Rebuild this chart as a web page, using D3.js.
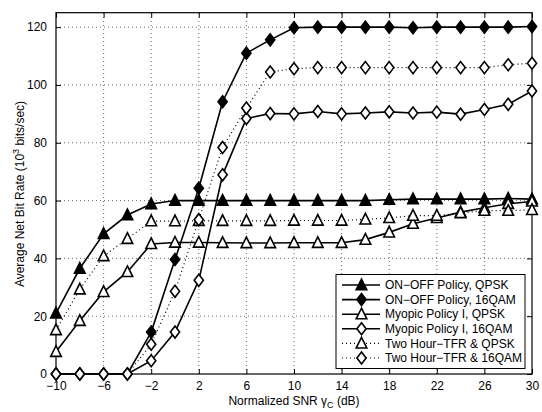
<!DOCTYPE html>
<html>
<head>
<meta charset="utf-8">
<script src="https://cdn.jsdelivr.net/npm/d3@7"></script>
<style>
  body { margin: 0; background: #fff; }
  text { font-family: "Liberation Sans", Arial, sans-serif; font-size: 12px; fill: #000; }
</style>
</head>
<body>
<div id="chart"></div>
<script>
// x values (normalized SNR, dB)
const snr = [-10, -8, -6, -4, -2, 0, 2, 4, 6, 8, 10, 12, 14, 16, 18, 20, 22, 24, 26, 28, 30]

// series values (10^3 bits/sec)
const onoffQpsk = [21, 36.5, 48.5, 55, 58.8, 60, 60, 60, 60, 60, 60, 60, 60, 60, 60.3, 60.5, 60.5, 60.5, 60.5, 60.7, 60.5]
const onoff16 = [0, 0, 0, 0, 14.5, 39.6, 64.3, 94.2, 111, 115.6, 119.8, 120, 120, 120, 120, 119.8, 120, 120, 120, 120, 120.2]
const myopicQpsk = [7.7, 18.4, 28.4, 35.3, 45, 45.5, 45.5, 45.4, 45.3, 45.3, 45.4, 45.4, 45.4, 46.5, 49, 52, 54, 56, 57.5, 58.9, 59.7]
const myopic16 = [0, 0, 0, 0, 4.6, 14.5, 32.4, 68.9, 88.4, 90.1, 90, 90.8, 90, 90.3, 90.7, 90.3, 90.6, 89.9, 91.5, 93.3, 97.9]
const twoQpsk = [15.2, 29.3, 40.8, 46.8, 52.9, 52.9, 53, 53, 53, 53, 53.1, 53.1, 53.1, 53.5, 54, 54.8, 54.8, 55.7, 56.5, 56.5, 56.8]
const two16 = [0, 0, 0, 0, 10.3, 28.6, 53.4, 78.4, 92, 104.5, 105.6, 106, 106, 106, 106, 106, 106, 106, 106, 107, 107.5]

const seriesNames = ["ON\u2212OFF Policy, QPSK", "ON\u2212OFF Policy, 16QAM", "Myopic Policy I, QPSK",
  "Myopic Policy I, 16QAM", "Two Hour\u2212TFR & QPSK", "Two Hour\u2212TFR & 16QAM"]
const seriesValues = [onoffQpsk, onoff16, myopicQpsk, myopic16, twoQpsk, two16]
const markers = ["tri", "dia", "tri", "dia", "tri", "dia"]
const filled = [true, true, false, false, false, false]
const dotted = [false, false, false, false, true, true]

const xTicks = [-10, -6, -2, 2, 6, 10, 14, 18, 22, 26, 30]
const yTicks = [0, 20, 40, 60, 80, 100, 120]

const width = 542
const height = 412
const margin = { left: 56, right: 10, top: 12.7, bottom: 38 }

const svg = d3.select("#chart").append("svg")
  .attr("width", width).attr("height", height)

const x = d3.scaleLinear().domain([-10, 30]).range([margin.left, width - margin.right])
const y = d3.scaleLinear().domain([0, 125]).range([height - margin.bottom, margin.top])

const fmt = d => String(d).replace("-", "\u2212")

// grid
const grid = svg.append("g").attr("stroke", "#444").attr("stroke-width", 0.8).attr("stroke-dasharray", "1,3")
grid.selectAll("line.gx").data(xTicks.slice(1, -1)).enter().append("line")
  .attr("x1", d => x(d)).attr("x2", d => x(d)).attr("y1", y(0)).attr("y2", y(125))
grid.selectAll("line.gy").data(yTicks.slice(1)).enter().append("line")
  .attr("y1", d => y(d)).attr("y2", d => y(d)).attr("x1", x(-10)).attr("x2", x(30))

// axes (ticks inward on all sides)
svg.append("g").attr("transform", "translate(0," + y(0) + ")")
  .call(d3.axisBottom(x).tickValues(xTicks).tickSizeInner(-5).tickSizeOuter(0).tickPadding(7.5).tickFormat(fmt))
svg.append("g").attr("transform", "translate(0," + y(125) + ")")
  .call(d3.axisTop(x).tickValues(xTicks).tickSizeInner(-5).tickSizeOuter(0).tickFormat(""))
svg.append("g").attr("transform", "translate(" + x(-10) + ",0)")
  .call(d3.axisLeft(y).tickValues(yTicks).tickSizeInner(-5).tickSizeOuter(0).tickPadding(9).tickFormat(fmt))
svg.append("g").attr("transform", "translate(" + x(30) + ",0)")
  .call(d3.axisRight(y).tickValues(yTicks).tickSizeInner(-5).tickSizeOuter(0).tickFormat(""))
svg.selectAll(".domain").remove()
svg.selectAll(".tick text").style("font-family", "'Liberation Sans', Arial, sans-serif").style("font-size", "12px").attr("fill", "#000")
svg.selectAll(".tick line").attr("stroke", "#000")

svg.append("rect")
  .attr("x", x(-10)).attr("y", y(125))
  .attr("width", x(30) - x(-10)).attr("height", y(0) - y(125))
  .attr("fill", "none").attr("stroke", "#000").attr("stroke-width", 1.2)

// marker shapes
const markerPath = {
  tri: "M0,-6L5.3,4.6L-5.3,4.6Z",
  dia: "M0,-6L4.6,0L0,6L-4.6,0Z"
}

const line = d3.line().x((d, i) => x(snr[i])).y(d => y(d))
const plot = svg.append("g")

seriesValues.forEach((vals, s) => {
  plot.append("path").datum(vals)
    .attr("d", line)
    .attr("fill", "none").attr("stroke", "#000")
    .attr("stroke-width", dotted[s] ? 1.2 : 1.6)
    .attr("stroke-dasharray", dotted[s] ? "1,3" : null)
  plot.selectAll(null).data(vals).enter().append("path")
    .attr("d", markerPath[markers[s]])
    .attr("transform", (d, i) => "translate(" + x(snr[i]) + "," + y(d) + ")")
    .attr("fill", filled[s] ? "#000" : "#fff")
    .attr("stroke", "#000").attr("stroke-width", 1.6)
})

// legend
const lg = svg.append("g").attr("transform", "translate(336,274.5)")
lg.append("rect").attr("width", 189).attr("height", 94)
  .attr("fill", "#fff").attr("stroke", "#000").attr("stroke-width", 1)
seriesNames.forEach((name, s) => {
  const yy = 10.5 + s * 14.6
  lg.append("line").attr("x1", 6).attr("x2", 44).attr("y1", yy).attr("y2", yy)
    .attr("stroke", "#000").attr("stroke-width", dotted[s] ? 1.2 : 1.6)
    .attr("stroke-dasharray", dotted[s] ? "1,3" : null)
  lg.append("path").attr("d", markerPath[markers[s]])
    .attr("transform", "translate(25.5," + yy + ")")
    .attr("fill", filled[s] ? "#000" : "#fff")
    .attr("stroke", "#000").attr("stroke-width", 1.6)
  lg.append("text").attr("x", 49).attr("y", yy + 4.2).text(name)
})

// axis labels
const xl = svg.append("text").attr("x", 294).attr("y", 405).attr("text-anchor", "middle")
xl.append("tspan").text("Normalized SNR \u03b3")
xl.append("tspan").attr("dy", 3).style("font-size", "9px").text("C")
xl.append("tspan").attr("dy", -3).text(" (dB)")

const yl = svg.append("text").attr("transform", "translate(24,194) rotate(-90)").attr("text-anchor", "middle")
yl.append("tspan").text("Average Net Bit Rate (10")
yl.append("tspan").attr("dy", -5).style("font-size", "9px").text("3")
yl.append("tspan").attr("dy", 5).text(" bits/sec)")
</script>
</body>
</html>
